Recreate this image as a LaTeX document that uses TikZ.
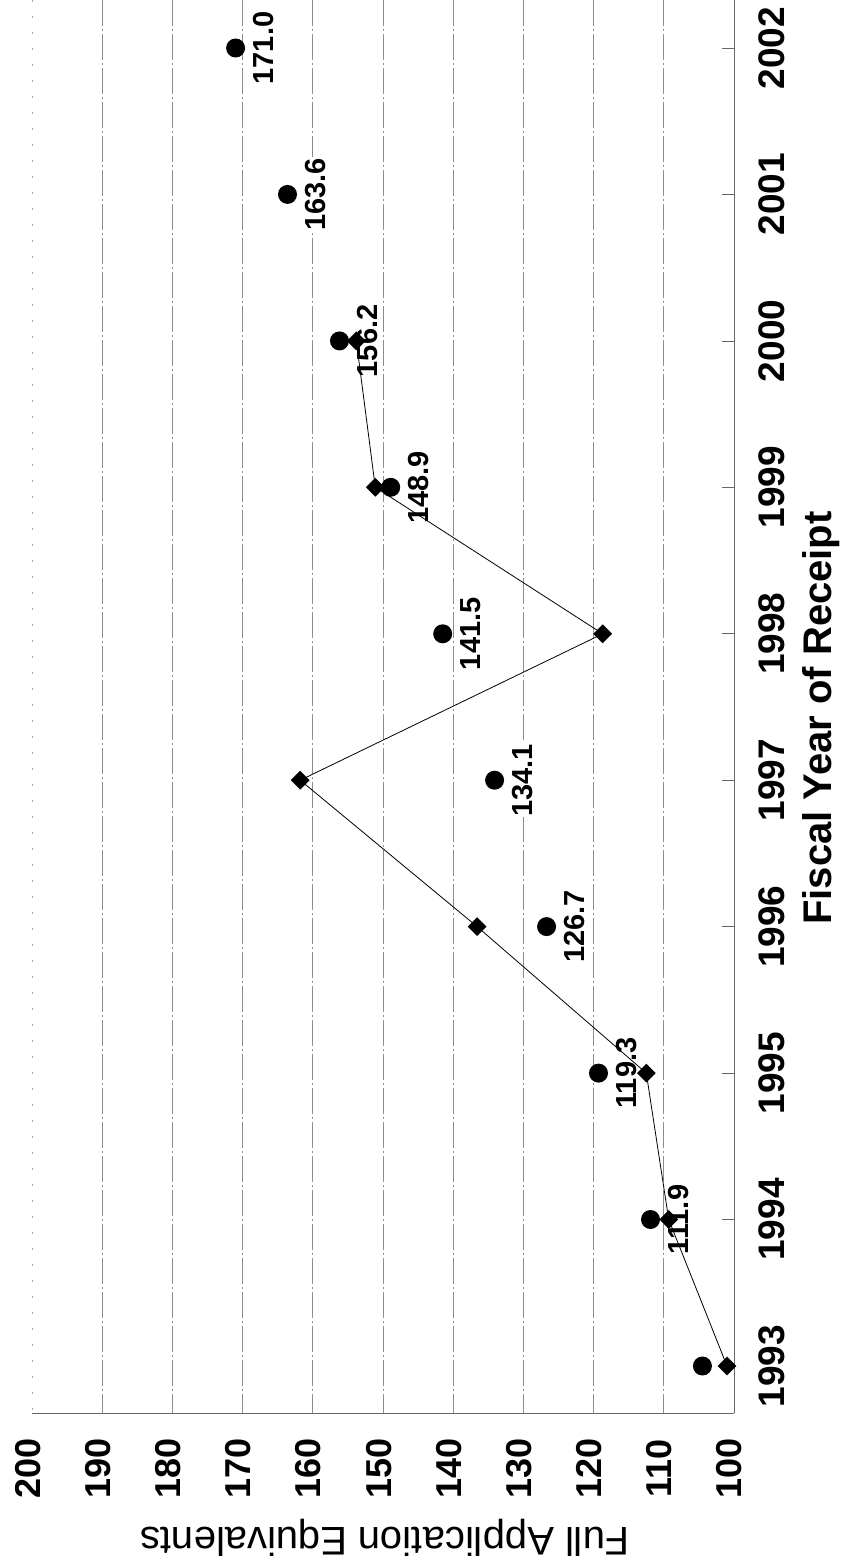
\documentclass[tikz,border=0pt]{standalone}
\usepackage{fontspec}
\setmainfont{Liberation Sans}
\usetikzlibrary{shapes.geometric}

\begin{document}
\begin{tikzpicture}[x=1pt,y=-1pt,
  gridline/.style={black!45,line width=0.7pt,dash pattern=on 26pt off 3pt on 2pt off 3pt},
  faintline/.style={black!35,line width=0.7pt,dash pattern=on 2pt off 14pt},
  axisline/.style={black!60,line width=0.8pt},
  dot/.style={circle,fill=black,inner sep=0pt,minimum size=19pt},
  diamondmark/.style={diamond,fill=black,inner sep=0pt,minimum width=19pt,minimum height=19pt},
  datalabel/.style={rotate=90,fill=white,inner sep=1pt,font=\fontsize{29}{30}\selectfont\bfseries},
  yearlabel/.style={rotate=90,font=\fontsize{37}{40}\selectfont\bfseries},
  vallabel/.style={rotate=90,font=\fontsize{36}{40}\selectfont\bfseries}]
\useasboundingbox (0,0) rectangle (841,1566);
\draw [faintline] (32,0) -- (32,1413);
\draw [gridline] (102.2,0) -- (102.2,1413);
\draw [gridline] (172.4,0) -- (172.4,1413);
\draw [gridline] (242.6,0) -- (242.6,1413);
\draw [gridline] (312.8,0) -- (312.8,1413);
\draw [gridline] (383,0) -- (383,1413);
\draw [gridline] (453.2,0) -- (453.2,1413);
\draw [gridline] (523.4,0) -- (523.4,1413);
\draw [gridline] (593.6,0) -- (593.6,1413);
\draw [gridline] (663.8,0) -- (663.8,1413);
\draw [axisline] (734,0) -- (734,1413);
\draw [axisline] (32,1413) -- (734,1413);
\draw [axisline] (722,48) -- (734,48);
\draw [axisline] (722,194.4) -- (734,194.4);
\draw [axisline] (722,340.9) -- (734,340.9);
\draw [axisline] (722,487.3) -- (734,487.3);
\draw [axisline] (722,633.8) -- (734,633.8);
\draw [axisline] (722,780.2) -- (734,780.2);
\draw [axisline] (722,926.6) -- (734,926.6);
\draw [axisline] (722,1073.1) -- (734,1073.1);
\draw [axisline] (722,1219.5) -- (734,1219.5);
\draw [axisline] (722,1366) -- (734,1366);
\node [vallabel] (v200) at (28,1468) {200};
\node [vallabel] (v190) at (98,1468) {190};
\node [vallabel] (v180) at (168,1468) {180};
\node [vallabel] (v170) at (238,1468) {170};
\node [vallabel] (v160) at (308,1468) {160};
\node [vallabel] (v150) at (379,1468) {150};
\node [vallabel] (v140) at (449,1468) {140};
\node [vallabel] (v130) at (519,1468) {130};
\node [vallabel] (v120) at (589,1468) {120};
\node [vallabel] (v110) at (659,1468) {110};
\node [vallabel] (v100) at (729,1468) {100};
\node [rotate=180,anchor=base,font=\fontsize{40}{44}\selectfont] (ytitle) at (385,1527) {Full Application Equivalents};
\node [yearlabel] (y1993) at (772,1366) {1993};
\node [yearlabel] (y1994) at (772,1219.5) {1994};
\node [yearlabel] (y1995) at (772,1073.1) {1995};
\node [yearlabel] (y1996) at (772,926.6) {1996};
\node [yearlabel] (y1997) at (772,780.2) {1997};
\node [yearlabel] (y1998) at (772,633.8) {1998};
\node [yearlabel] (y1999) at (772,487.3) {1999};
\node [yearlabel] (y2000) at (772,340.9) {2000};
\node [yearlabel] (y2001) at (772,194.4) {2001};
\node [yearlabel] (y2002) at (772,48) {2002};
\node [rotate=90,inner sep=0pt,font=\fontsize{40}{44}\selectfont\bfseries] (xtitle) at (821,718) {Fiscal Year of Receipt};
\node [datalabel] (l1994) at (679,1219.5) {111.9};
\node [datalabel] (l1995) at (627,1073.1) {119.3};
\node [datalabel] (l1996) at (575,926.6) {126.7};
\node [datalabel] (l1997) at (523,780.2) {134.1};
\node [datalabel] (l1998) at (471,633.8) {141.5};
\node [datalabel] (l1999) at (419,487.3) {148.9};
\node [datalabel] (l2000) at (368,340.9) {156.2};
\node [datalabel] (l2001) at (316,194.4) {163.6};
\node [datalabel] (l2002) at (264,48) {171.0};
\node [dot] (c1993) at (702.4,1366) {};
\node [dot] (c1994) at (650.5,1219.5) {};
\node [dot] (c1995) at (598.5,1073.1) {};
\node [dot] (c1996) at (546.6,926.6) {};
\node [dot] (c1997) at (494.6,780.2) {};
\node [dot] (c1998) at (442.7,633.8) {};
\node [dot] (c1999) at (390.7,487.3) {};
\node [dot] (c2000) at (339.5,340.9) {};
\node [dot] (c2001) at (287.5,194.4) {};
\node [dot] (c2002) at (235.6,48) {};
\node [diamondmark] (d1993) at (727,1366) {};
\node [diamondmark] (d1994) at (668.7,1219.5) {};
\node [diamondmark] (d1995) at (646.3,1073.1) {};
\node [diamondmark] (d1996) at (477.1,926.6) {};
\node [diamondmark] (d1997) at (300.2,780.2) {};
\node [diamondmark] (d1998) at (602.7,633.8) {};
\node [diamondmark] (d1999) at (375.3,487.3) {};
\node [diamondmark] (d2000) at (356.3,340.9) {};
\draw [black,line width=0.8pt] (d1993.center) -- (d1994.center) -- (d1995.center) -- (d1996.center) -- (d1997.center) -- (d1998.center) -- (d1999.center) -- (d2000.center);
\end{tikzpicture}
\end{document}
